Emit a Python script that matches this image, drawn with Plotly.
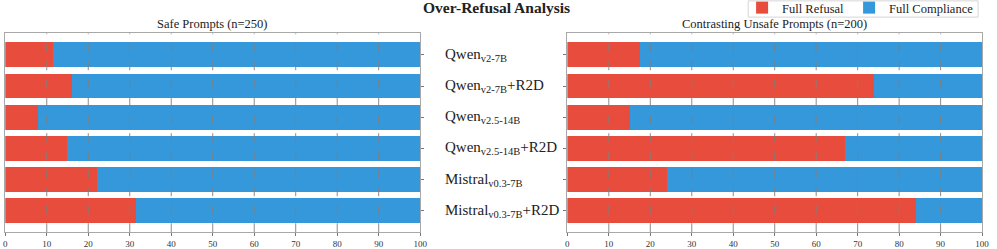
import plotly.graph_objects as go

categories = [
    "Qwen<sub>v2-7B</sub>",
    "Qwen<sub>v2-7B</sub>+R2D",
    "Qwen<sub>v2.5-14B</sub>",
    "Qwen<sub>v2.5-14B</sub>+R2D",
    "Mistral<sub>v0.3-7B</sub>",
    "Mistral<sub>v0.3-7B</sub>+R2D",
]
safe_refusal = [11.6, 16.0, 8.0, 14.8, 22.0, 31.6]
safe_compliance = [88.4, 84.0, 92.0, 85.2, 78.0, 68.4]
unsafe_refusal = [17.5, 74.0, 15.0, 67.0, 24.0, 84.0]
unsafe_compliance = [82.5, 26.0, 85.0, 33.0, 76.0, 16.0]
x_ticks = [0, 10, 20, 30, 40, 50, 60, 70, 80, 90, 100]
panel_titles = ["Safe Prompts (n=250)", "Contrasting Unsafe Prompts (n=200)"]
main_title = "Over-Refusal Analysis"

RED = "#e74c3c"
BLUE = "#3498db"
FONT = "Liberation Serif"
W, H = 997, 249
OFF = 7            # hidden strip above the window so the legend row can sit high
HF = H + OFF


def py(y_win):
    """window pixel row -> paper fraction"""
    return 1 - (y_win + OFF) / HF


fig = go.Figure()
for i, (ref, comp) in enumerate([(safe_refusal, safe_compliance), (unsafe_refusal, unsafe_compliance)]):
    xa = "x" if i == 0 else "x2"
    ya = "y" if i == 0 else "y2"
    fig.add_trace(go.Bar(y=categories, x=ref, orientation="h", marker=dict(color=RED, line=dict(width=0)),
                         width=0.8, name="Full Refusal", showlegend=(i == 0), xaxis=xa, yaxis=ya))
    fig.add_trace(go.Bar(y=categories, x=comp, orientation="h", marker=dict(color=BLUE, line=dict(width=0)),
                         width=0.8, name="Full Compliance", showlegend=(i == 0), xaxis=xa, yaxis=ya))

ydom = [py(236), py(34)]
xdom1 = [3.3 / W, 422 / W]
xdom2 = [570.5 / W, 989 / W]

xcommon = dict(range=[0, 100], tickvals=x_ticks, showgrid=False,
               showline=True, linecolor="#a8a8a8", linewidth=1.2, mirror=True,
               ticks="outside", ticklen=3, tickcolor="#777", tickfont=dict(family=FONT, size=9, color="#333"),
               zeroline=False, layer="above traces", fixedrange=True)
ycommon = dict(categoryorder="array", categoryarray=categories, range=[5.69, -0.69], showticklabels=False,
               showline=True, linecolor="#a8a8a8", linewidth=1.2, mirror=True, ticks="outside", ticklen=3,
               tickcolor="#777", showgrid=False, zeroline=False, layer="above traces", fixedrange=True)

fig.update_layout(
    width=W, height=HF, margin=dict(l=0, r=0, t=0, b=0),
    paper_bgcolor="white", plot_bgcolor="white", barmode="stack", bargap=0.2,
    font=dict(family=FONT, color="#222"),
    xaxis=dict(domain=xdom1, anchor="y", **xcommon),
    xaxis2=dict(domain=xdom2, anchor="y2", **xcommon),
    yaxis=dict(domain=ydom, anchor="x", side="right", **ycommon),
    yaxis2=dict(domain=ydom, anchor="x2", side="left", **ycommon),
    legend=dict(orientation="h", x=986 / W, y=1, xanchor="right", yanchor="top",
                bgcolor="rgba(0,0,0,0)", borderwidth=0,
                font=dict(family=FONT, size=12.5, color="#222"), traceorder="normal",
                itemwidth=30, tracegroupgap=0),
    showlegend=True,
)

shapes = [
    # legend frame
    dict(type="rect", xref="paper", yref="paper", x0=753 / W, x1=985 / W, y0=py(17.5), y1=py(1),
         fillcolor="white", line=dict(color="#d6d6d6", width=1), layer="above"),
]
# dashed vertical grid drawn above the bars
for xr in ["x", "x2"]:
    for t in x_ticks[1:-1]:
        shapes.append(dict(type="line", xref=xr, yref=xr.replace("x", "y") + " domain", x0=t, x1=t, y0=0, y1=1,
                           line=dict(color="#7f7f7f", width=0.9, dash="dash"), layer="above"))
fig.update_layout(shapes=shapes)

annotations = [
    dict(text="<b>" + main_title + "</b>", x=0.5, y=py(7.5), xref="paper", yref="paper",
         xanchor="center", yanchor="middle", showarrow=False, font=dict(family=FONT, size=15.5, color="#222")),
    dict(text=panel_titles[0], x=(xdom1[0] + xdom1[1]) / 2, y=py(24), xref="paper", yref="paper",
         xanchor="center", yanchor="middle", showarrow=False, font=dict(family=FONT, size=12.5, color="#222")),
    dict(text=panel_titles[1], x=(xdom2[0] + xdom2[1]) / 2, y=py(24), xref="paper", yref="paper",
         xanchor="center", yanchor="middle", showarrow=False, font=dict(family=FONT, size=12.5, color="#222")),
]
for c in categories:
    annotations.append(dict(text=c, x=445.5 / W, y=c, xref="paper", yref="y2", xanchor="left", yanchor="middle",
                            showarrow=False, font=dict(family=FONT, size=15, color="#222")))
fig.update_layout(annotations=annotations)

fig.write_html("out.html", config={"displayModeBar": False},
               post_script="document.body.style.margin='0';document.body.style.marginTop='-%dpx';"
                           "document.body.style.overflow='hidden';" % OFF)
